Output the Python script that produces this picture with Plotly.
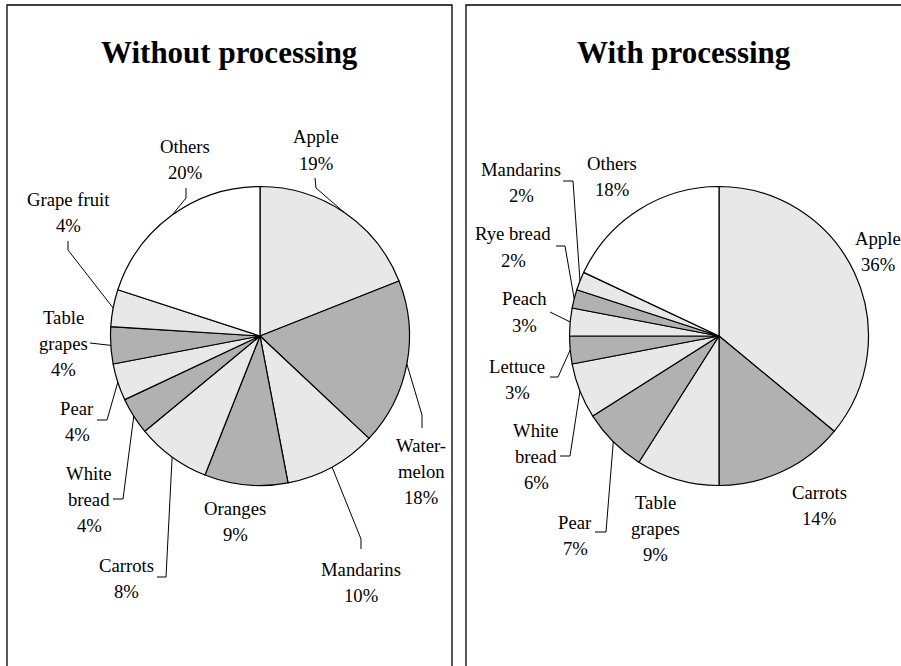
import math
import plotly.graph_objects as go

# ---------------- data ----------------
left_categories = ["Apple", "Watermelon", "Mandarins", "Oranges", "Carrots",
                   "White bread", "Pear", "Table grapes", "Grape fruit", "Others"]
left_label_lines = ["Apple", "Water-|melon", "Mandarins", "Oranges", "Carrots",
                    "White|bread", "Pear", "Table|grapes", "Grape fruit", "Others"]
left_values = [19, 18, 10, 9, 8, 4, 4, 4, 4, 20]

right_categories = ["Apple", "Carrots", "Table grapes", "Pear", "White bread",
                    "Lettuce", "Peach", "Rye bread", "Mandarins", "Others"]
right_label_lines = ["Apple", "Carrots", "Table|grapes", "Pear", "White|bread",
                     "Lettuce", "Peach", "Rye bread", "Mandarins", "Others"]
right_values = [36, 14, 9, 7, 6, 3, 3, 2, 2, 18]

titles = ["Without processing", "With processing"]

# ---------------- layout / style ----------------
W, H = 901, 666
LIGHT, DARK, WHITE = "#e8e8e8", "#b1b1b1", "#ffffff"
FONT = "Liberation Serif"
R = 149.5
LINE_STEP = 26.3
LABEL_SIZE = 18.7
TITLE_SIZE = 31

left_center = (260, 336)
right_center = (719, 336)

left_colors = [LIGHT, DARK, LIGHT, DARK, LIGHT, DARK, LIGHT, DARK, LIGHT, WHITE]
right_colors = [LIGHT, DARK, LIGHT, DARK, LIGHT, DARK, LIGHT, DARK, LIGHT, WHITE]

# label anchor (centre of first text line) in pixels
left_label_pos = [(316, 137), (421, 445), (361, 569), (235, 508), (127, 565),
                  (89, 473), (77, 408), (63, 317), (68, 199), (185, 146)]
right_label_pos = [(878, 238), (819, 492), (655, 502), (575, 522), (536, 430),
                   (517, 366), (524, 299), (513, 234), (521, 169), (612, 163)]

# leader line: start point and optional elbow (pixels); end is on the slice edge
left_leaders = [[(315, 178), (316, 188)], [(422, 428), (422, 415)],
                [(361, 549), (361, 539)], None, [(157, 577), (166, 577)],
                [(113, 499), (123, 499)], [(97, 420), (107, 420)],
                [(90, 343)], [(68, 241), (68, 250)], [(186, 188), (186, 198)]]
right_leaders = [None, None, None, [(595, 532), (606, 532)],
                 [(560, 456), (570, 456)], [(550, 377), (558, 377)],
                 [(550, 312)], [(556, 246), (565, 246)],
                 [(563, 181), (573, 181)], None]


def px(x, y):
    return x / W, 1 - y / H


fig = go.Figure()
shapes = []
annotations = []


def add_pie(values, cats, colors, center, label_lines, label_pos, leaders):
    cx, cy = center
    fig.add_trace(go.Pie(
        values=values, labels=cats, sort=False, direction="clockwise",
        rotation=0, textinfo="none", hoverinfo="label+percent",
        marker=dict(colors=colors, line=dict(color="black", width=1.2)),
        domain=dict(x=[(cx - R) / W, (cx + R) / W],
                    y=[1 - (cy + R) / H, 1 - (cy - R) / H]),
        showlegend=False,
    ))
    total = sum(values)
    cum = 0
    for v, lines, pos, lead in zip(values, label_lines, label_pos, leaders):
        frac = (cum + v / 2) / total
        cum += v
        th = 2 * math.pi * frac
        ex, ey = cx + R * math.sin(th), cy - R * math.cos(th)
        text_lines = lines.split("|") + [f"{v}%"]
        for k, t in enumerate(text_lines):
            x, y = px(pos[0], pos[1] + k * LINE_STEP)
            annotations.append(dict(
                x=x, y=y, xref="paper", yref="paper", text=t, showarrow=False,
                xanchor="center", yanchor="middle",
                font=dict(family=FONT, size=LABEL_SIZE, color="black")))
        if lead:
            pts = list(lead) + [(ex, ey)]
            for a, b in zip(pts[:-1], pts[1:]):
                x0, y0 = px(*a)
                x1, y1 = px(*b)
                shapes.append(dict(type="line", xref="paper", yref="paper",
                                   x0=x0, y0=y0, x1=x1, y1=y1,
                                   line=dict(color="black", width=1)))


add_pie(left_values, left_categories, left_colors, left_center,
        left_label_lines, left_label_pos, left_leaders)
add_pie(right_values, right_categories, right_colors, right_center,
        right_label_lines, right_label_pos, right_leaders)

# panel frames
for x0, x1 in [(7, 452), (466, 910)]:
    a = px(x0, 5)
    b = px(x1, 680)
    shapes.append(dict(type="rect", xref="paper", yref="paper",
                       x0=a[0], y0=b[1], x1=b[0], y1=a[1],
                       line=dict(color="black", width=1.3)))

# titles
for t, (tx, ty) in zip(titles, [(229, 52), (684, 52)]):
    x, y = px(tx, ty)
    annotations.append(dict(x=x, y=y, xref="paper", yref="paper",
                            text=f"<b>{t}</b>", showarrow=False,
                            xanchor="center", yanchor="middle",
                            font=dict(family=FONT, size=TITLE_SIZE, color="black")))

fig.update_layout(
    width=W, height=H, margin=dict(l=0, r=0, t=0, b=0),
    paper_bgcolor="white", plot_bgcolor="white",
    shapes=shapes, annotations=annotations,
)

fig.write_html("out.html",
               config={"displayModeBar": False},
               post_script="document.body.style.margin='0';"
                           "document.body.style.overflow='hidden';")
